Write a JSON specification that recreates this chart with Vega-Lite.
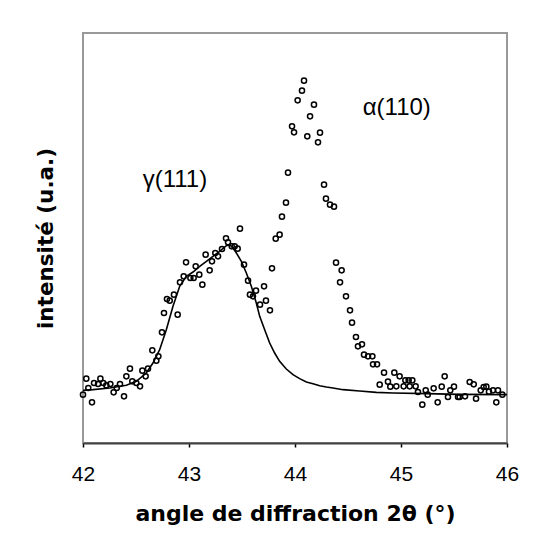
{
  "$schema": "https://vega.github.io/schema/vega-lite/v6.json",
  "width": 424,
  "height": 410,
  "autosize": {"type": "none"},
  "padding": {"left": 83, "top": 33, "right": 48, "bottom": 106},
  "background": "white",
  "config": {
    "view": {"stroke": "#999999", "strokeWidth": 2},
    "font": "Liberation Sans"
  },
  "datasets": {
    "pts": [
      {"angle": 42.00, "intensite": 145}, {"angle": 42.031, "intensite": 193}, {"angle": 42.050, "intensite": 165},
      {"angle": 42.085, "intensite": 122}, {"angle": 42.104, "intensite": 180}, {"angle": 42.142, "intensite": 177},
      {"angle": 42.164, "intensite": 193}, {"angle": 42.192, "intensite": 180}, {"angle": 42.220, "intensite": 173},
      {"angle": 42.258, "intensite": 177}, {"angle": 42.289, "intensite": 152}, {"angle": 42.318, "intensite": 165},
      {"angle": 42.349, "intensite": 177}, {"angle": 42.387, "intensite": 140}, {"angle": 42.409, "intensite": 200},
      {"angle": 42.443, "intensite": 223}, {"angle": 42.465, "intensite": 185}, {"angle": 42.503, "intensite": 180},
      {"angle": 42.538, "intensite": 170}, {"angle": 42.560, "intensite": 217}, {"angle": 42.591, "intensite": 200},
      {"angle": 42.613, "intensite": 223}, {"angle": 42.654, "intensite": 278}, {"angle": 42.692, "intensite": 247},
      {"angle": 42.711, "intensite": 260}, {"angle": 42.745, "intensite": 332}, {"angle": 42.764, "intensite": 390},
      {"angle": 42.792, "intensite": 432}, {"angle": 42.818, "intensite": 427}, {"angle": 42.858, "intensite": 445},
      {"angle": 42.893, "intensite": 385}, {"angle": 42.915, "intensite": 482}, {"angle": 42.950, "intensite": 500},
      {"angle": 42.972, "intensite": 542}, {"angle": 43.013, "intensite": 495}, {"angle": 43.044, "intensite": 495},
      {"angle": 43.063, "intensite": 530}, {"angle": 43.097, "intensite": 505}, {"angle": 43.126, "intensite": 475},
      {"angle": 43.157, "intensite": 565}, {"angle": 43.195, "intensite": 518}, {"angle": 43.217, "intensite": 545},
      {"angle": 43.248, "intensite": 570}, {"angle": 43.274, "intensite": 560}, {"angle": 43.311, "intensite": 582},
      {"angle": 43.349, "intensite": 614}, {"angle": 43.368, "intensite": 602}, {"angle": 43.403, "intensite": 590},
      {"angle": 43.431, "intensite": 590}, {"angle": 43.459, "intensite": 583}, {"angle": 43.481, "intensite": 643},
      {"angle": 43.519, "intensite": 535}, {"angle": 43.557, "intensite": 487}, {"angle": 43.575, "intensite": 445},
      {"angle": 43.604, "intensite": 440}, {"angle": 43.632, "intensite": 457}, {"angle": 43.670, "intensite": 415},
      {"angle": 43.708, "intensite": 470}, {"angle": 43.726, "intensite": 427}, {"angle": 43.764, "intensite": 398},
      {"angle": 43.783, "intensite": 524}, {"angle": 43.818, "intensite": 613}, {"angle": 43.855, "intensite": 625},
      {"angle": 43.877, "intensite": 679}, {"angle": 43.915, "intensite": 721}, {"angle": 43.934, "intensite": 811},
      {"angle": 43.972, "intensite": 950}, {"angle": 43.991, "intensite": 932}, {"angle": 44.025, "intensite": 1028},
      {"angle": 44.066, "intensite": 1057}, {"angle": 44.085, "intensite": 1087}, {"angle": 44.116, "intensite": 920},
      {"angle": 44.142, "intensite": 980}, {"angle": 44.179, "intensite": 1015}, {"angle": 44.217, "intensite": 902},
      {"angle": 44.236, "intensite": 931}, {"angle": 44.274, "intensite": 775}, {"angle": 44.292, "intensite": 733},
      {"angle": 44.330, "intensite": 715}, {"angle": 44.368, "intensite": 709}, {"angle": 44.387, "intensite": 541},
      {"angle": 44.425, "intensite": 482}, {"angle": 44.440, "intensite": 518}, {"angle": 44.481, "intensite": 440},
      {"angle": 44.519, "intensite": 398}, {"angle": 44.538, "intensite": 361}, {"angle": 44.575, "intensite": 318},
      {"angle": 44.594, "intensite": 290}, {"angle": 44.632, "intensite": 296}, {"angle": 44.651, "intensite": 265},
      {"angle": 44.689, "intensite": 260}, {"angle": 44.730, "intensite": 260}, {"angle": 44.736, "intensite": 236},
      {"angle": 44.774, "intensite": 236}, {"angle": 44.799, "intensite": 175}, {"angle": 44.840, "intensite": 211},
      {"angle": 44.877, "intensite": 184}, {"angle": 44.899, "intensite": 169}, {"angle": 44.937, "intensite": 211},
      {"angle": 44.956, "intensite": 170}, {"angle": 44.987, "intensite": 200}, {"angle": 45.025, "intensite": 170},
      {"angle": 45.041, "intensite": 188}, {"angle": 45.072, "intensite": 188}, {"angle": 45.082, "intensite": 170},
      {"angle": 45.107, "intensite": 188}, {"angle": 45.138, "intensite": 170}, {"angle": 45.160, "intensite": 153},
      {"angle": 45.201, "intensite": 115}, {"angle": 45.233, "intensite": 158}, {"angle": 45.252, "intensite": 145},
      {"angle": 45.308, "intensite": 164}, {"angle": 45.346, "intensite": 122}, {"angle": 45.384, "intensite": 169},
      {"angle": 45.412, "intensite": 200}, {"angle": 45.443, "intensite": 138}, {"angle": 45.465, "intensite": 158},
      {"angle": 45.500, "intensite": 169}, {"angle": 45.538, "intensite": 138}, {"angle": 45.553, "intensite": 138},
      {"angle": 45.604, "intensite": 140}, {"angle": 45.648, "intensite": 183}, {"angle": 45.686, "intensite": 176},
      {"angle": 45.708, "intensite": 133}, {"angle": 45.752, "intensite": 158}, {"angle": 45.780, "intensite": 168},
      {"angle": 45.805, "intensite": 169}, {"angle": 45.830, "intensite": 154}, {"angle": 45.868, "intensite": 158},
      {"angle": 45.899, "intensite": 122}, {"angle": 45.915, "intensite": 158}, {"angle": 45.956, "intensite": 145}
    ],
    "fit": [
      {"angle": 42.000, "intensite": 158}, {"angle": 42.094, "intensite": 160}, {"angle": 42.252, "intensite": 165},
      {"angle": 42.409, "intensite": 173}, {"angle": 42.503, "intensite": 185}, {"angle": 42.597, "intensite": 210},
      {"angle": 42.660, "intensite": 240}, {"angle": 42.723, "intensite": 280}, {"angle": 42.786, "intensite": 340},
      {"angle": 42.849, "intensite": 410}, {"angle": 42.912, "intensite": 470}, {"angle": 42.975, "intensite": 500},
      {"angle": 43.038, "intensite": 513}, {"angle": 43.101, "intensite": 530}, {"angle": 43.164, "intensite": 545},
      {"angle": 43.226, "intensite": 560}, {"angle": 43.289, "intensite": 575}, {"angle": 43.352, "intensite": 592},
      {"angle": 43.384, "intensite": 595}, {"angle": 43.415, "intensite": 585}, {"angle": 43.447, "intensite": 570},
      {"angle": 43.494, "intensite": 545}, {"angle": 43.541, "intensite": 510}, {"angle": 43.588, "intensite": 470},
      {"angle": 43.635, "intensite": 420}, {"angle": 43.667, "intensite": 380}, {"angle": 43.714, "intensite": 340},
      {"angle": 43.761, "intensite": 300}, {"angle": 43.808, "intensite": 270}, {"angle": 43.855, "intensite": 245},
      {"angle": 43.918, "intensite": 222}, {"angle": 43.981, "intensite": 205}, {"angle": 44.044, "intensite": 193},
      {"angle": 44.107, "intensite": 183}, {"angle": 44.170, "intensite": 178}, {"angle": 44.233, "intensite": 172},
      {"angle": 44.296, "intensite": 168}, {"angle": 44.358, "intensite": 165}, {"angle": 44.453, "intensite": 160},
      {"angle": 44.610, "intensite": 156}, {"angle": 44.767, "intensite": 152}, {"angle": 44.925, "intensite": 150},
      {"angle": 45.239, "intensite": 148}, {"angle": 45.553, "intensite": 146}, {"angle": 46.000, "intensite": 145}
    ],
    "lab": [
      {"angle": 42.563, "intensite": 790, "label": "γ(111)"},
      {"angle": 44.639, "intensite": 1006, "label": "α(110)"}
    ]
  },
  "layer": [
    {
      "data": {"name": "fit"},
      "mark": {"type": "line", "color": "black", "strokeWidth": 1.6},
      "encoding": {
        "x": {
          "field": "angle", "type": "quantitative",
          "scale": {"domain": [42, 46], "nice": false, "zero": false},
          "axis": {
            "title": "angle de diffraction 2θ (°)",
            "values": [42, 43, 44, 45, 46],
            "format": "d",
            "grid": false,
            "labelFontSize": 21,
            "labelColor": "black",
            "labelFont": "Liberation Sans",
            "labelFlush": false,
            "labelPadding": 16,
            "tickSize": 4,
            "tickColor": "black",
            "tickWidth": 1.5,
            "domainColor": "#404040",
            "domainWidth": 2,
            "titleFontSize": 22,
            "titleFontWeight": "bold",
            "titleColor": "black",
            "titleFont": "DejaVu Sans",
            "titlePadding": 19
          }
        },
        "y": {
          "field": "intensite", "type": "quantitative",
          "scale": {"domain": [0, 1230], "nice": false, "zero": false},
          "axis": {
            "title": "intensité (u.a.)",
            "labels": false,
            "ticks": false,
            "domain": false,
            "grid": false,
            "minExtent": 0,
            "maxExtent": 0,
            "titleFontSize": 21.5,
            "titleFontWeight": "bold",
            "titleColor": "black",
            "titleFont": "DejaVu Sans",
            "titlePadding": 26
          }
        }
      }
    },
    {
      "data": {"name": "pts"},
      "mark": {"type": "point", "shape": "circle", "filled": false, "color": "black", "size": 26, "strokeWidth": 1.5, "opacity": 1},
      "encoding": {
        "x": {"field": "angle", "type": "quantitative"},
        "y": {"field": "intensite", "type": "quantitative"}
      }
    },
    {
      "data": {"name": "lab"},
      "mark": {"type": "text", "align": "left", "baseline": "middle", "fontSize": 24, "font": "Liberation Sans", "color": "black"},
      "encoding": {
        "x": {"field": "angle", "type": "quantitative"},
        "y": {"field": "intensite", "type": "quantitative"},
        "text": {"field": "label"}
      }
    }
  ]
}
